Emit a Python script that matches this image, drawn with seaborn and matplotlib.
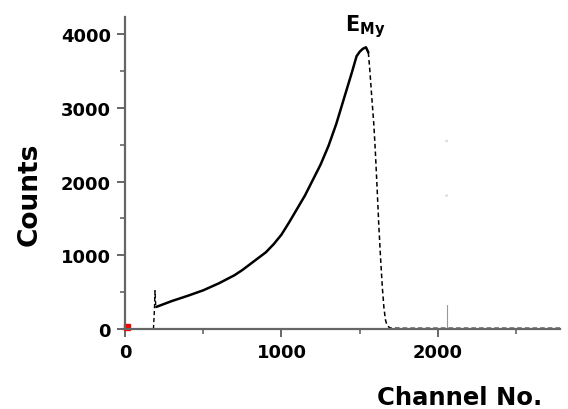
import matplotlib
matplotlib.use("Agg")
import matplotlib.pyplot as plt
import seaborn as sns
from matplotlib.ticker import MultipleLocator

# spectrum
edge_ch = [182, 188, 192, 194, 197, 200]
edge_counts = [0, 250, 520, 420, 300, 300]

body_ch = [200, 300, 400, 500, 600, 700, 750, 800, 900, 950, 1000, 1050,
           1100, 1150, 1200, 1250, 1300, 1350, 1400, 1450, 1480, 1500, 1520,
           1540, 1555]
body_counts = [300, 380, 450, 525, 620, 730, 800, 880, 1040, 1150, 1280, 1450,
               1630, 1810, 2020, 2230, 2480, 2780, 3130, 3480, 3700, 3760, 3800,
               3820, 3750]

fall_ch = [1555, 1565, 1575, 1590, 1600, 1612, 1622, 1633, 1645, 1655, 1665,
           1675, 1690, 1700, 1800, 2000, 2200, 2400, 2600, 2780]
fall_counts = [3750, 3500, 3200, 2780, 2400, 1870, 1400, 970, 550, 280, 120,
               50, 20, 12, 10, 10, 10, 10, 10, 10]

spike_ch = [2055, 2055]
spike_counts = [20, 320]
faint_ch = [2055, 2055]
faint_counts = [1810, 2550]

x_ticks = [0, 1000, 2000]
y_ticks = [0, 1000, 2000, 3000, 4000]

sns.set_style("ticks")
plt.rcParams['font.family'] = ['DejaVu Sans']
plt.rcParams['mathtext.fontset'] = 'dejavusans'
plt.rcParams['text.color'] = 'black'
plt.rcParams['xtick.labelcolor'] = 'black'
plt.rcParams['ytick.labelcolor'] = 'black'

fig = plt.figure(figsize=(5.68, 4.10), dpi=100)
ax = fig.add_axes([0.220, 0.195, 0.766, 0.761])

sns.lineplot(x=edge_ch, y=edge_counts, ax=ax, color="black", lw=1.0,
             linestyle=(0, (3, 2)), estimator=None, sort=False)
sns.lineplot(x=body_ch, y=body_counts, ax=ax, color="black", lw=1.8,
             estimator=None, sort=False)
sns.lineplot(x=fall_ch, y=fall_counts, ax=ax, color="black", lw=1.1,
             linestyle=(0, (3, 2)), estimator=None, sort=False)
sns.lineplot(x=spike_ch, y=spike_counts, ax=ax, color="#999999", lw=0.8,
             estimator=None, sort=False)
sns.scatterplot(x=faint_ch, y=faint_counts, ax=ax, color="#dddddd", s=4,
                edgecolor="none")
ax.plot([15], [25], marker="s", color="red", markersize=5, clip_on=False)

ax.set_xlim(0, 2780)
ax.set_ylim(0, 4230)
ax.set_xticks(x_ticks)
ax.set_yticks(y_ticks)
ax.xaxis.set_minor_locator(MultipleLocator(500))
ax.yaxis.set_minor_locator(MultipleLocator(500))

for side in ["top", "right"]:
    ax.spines[side].set_visible(False)
for side in ["left", "bottom"]:
    ax.spines[side].set_color("#666666")
    ax.spines[side].set_linewidth(1.6)

ax.tick_params(which="major", length=6, width=1.4, color="#666666",
               labelsize=13, pad=4, labelcolor="black")
ax.tick_params(which="minor", length=3.5, width=1.2, color="#666666")
for lab in ax.get_xticklabels() + ax.get_yticklabels():
    lab.set_fontweight("bold")

ax.set_xlabel("")
ax.set_ylabel("")
fig.text(0.053, 0.525, "Counts", rotation=90, fontsize=19, fontweight="bold",
         ha="center", va="center", color="black")
fig.text(0.81, 0.029, "Channel No.", fontsize=17.5, fontweight="bold",
         ha="center", va="center", color="black")
ax.text(1404, 4054, r"$\mathbf{E_{My}}$", fontsize=15, ha="left",
        va="baseline", color="black")

fig.savefig("out.png", dpi=100)
